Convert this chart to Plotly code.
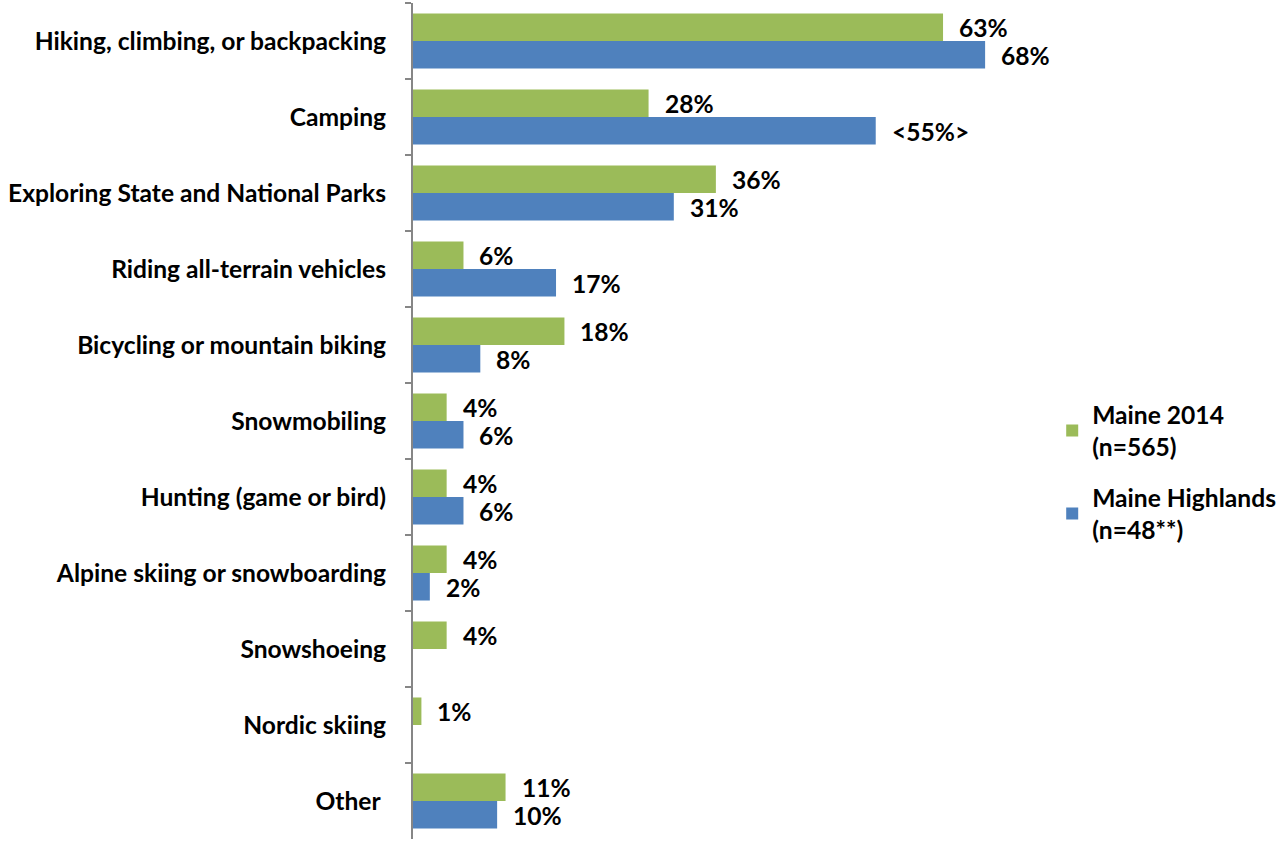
import plotly.graph_objects as go

categories = [
    "Hiking, climbing, or backpacking",
    "Camping",
    "Exploring State and National Parks",
    "Riding all-terrain vehicles",
    "Bicycling or mountain biking",
    "Snowmobiling",
    "Hunting (game or bird)",
    "Alpine skiing or snowboarding",
    "Snowshoeing",
    "Nordic skiing",
    "Other ",
]
maine_2014 = [63, 28, 36, 6, 18, 4, 4, 4, 4, 1, 11]
maine_highlands = [68, 55, 31, 17, 8, 6, 6, 2, None, None, 10]
maine_2014_labels = ["63%", "28%", "36%", "6%", "18%", "4%", "4%", "4%", "4%", "1%", "11%"]
maine_highlands_labels = ["68%", "<55%>", "31%", "17%", "8%", "6%", "6%", "2%", "", "", "10%"]

GREEN = "#9BBB59"
BLUE = "#4F81BD"
FONT = "Lato"
FSIZE = 24.6

fig = go.Figure()
fig.add_trace(go.Bar(
    y=categories, x=maine_2014, orientation="h", legendgroup="a",
    name="Maine 2014<br>(n=565)", marker=dict(color=GREEN, line=dict(width=0)),
))
fig.add_trace(go.Bar(
    y=categories, x=maine_highlands, orientation="h", legendgroup="b",
    name="Maine Highlands<br>(n=48**)", marker=dict(color=BLUE, line=dict(width=0)),
))

# value labels placed just past the end of each bar
label_font = dict(family=FONT, size=FSIZE, color="black", weight="bold")
for i, (v, t) in enumerate(zip(maine_2014, maine_2014_labels)):
    if v is not None and t:
        fig.add_annotation(x=v, y=i, yshift=14, xshift=14, text=t, showarrow=False,
                           xanchor="left", yanchor="middle", font=label_font)
for i, (v, t) in enumerate(zip(maine_highlands, maine_highlands_labels)):
    if v is not None and t:
        fig.add_annotation(x=v, y=i, yshift=-14, xshift=14, text=t, showarrow=False,
                           xanchor="left", yanchor="middle", font=label_font)

fig.update_layout(
    width=1278, height=843,
    margin=dict(l=413, r=234, t=3, b=4, autoexpand=False),
    paper_bgcolor="white", plot_bgcolor="white",
    barmode="group", bargap=0.276, bargroupgap=0,
    font=dict(family=FONT, size=FSIZE, color="black"),
    showlegend=True,
    legend=dict(x=1.013, y=0.439, xanchor="left", yanchor="middle",
                font=dict(family=FONT, size=FSIZE, color="black", weight="bold"),
                traceorder="grouped", itemwidth=30, tracegroupgap=16,
                bgcolor="rgba(0,0,0,0)"),
    xaxis=dict(range=[0, 75], visible=False, showgrid=False, zeroline=False),
    yaxis=dict(
        autorange="reversed", showline=True, linecolor="#868686", linewidth=2,
        ticks="outside", tickson="boundaries", ticklen=6, tickcolor="#868686", tickwidth=2,
        ticklabelstandoff=20, showgrid=False,
        tickfont=dict(family=FONT, size=FSIZE, color="black", weight="bold"),
    ),
)

fig.write_html("out.html")
